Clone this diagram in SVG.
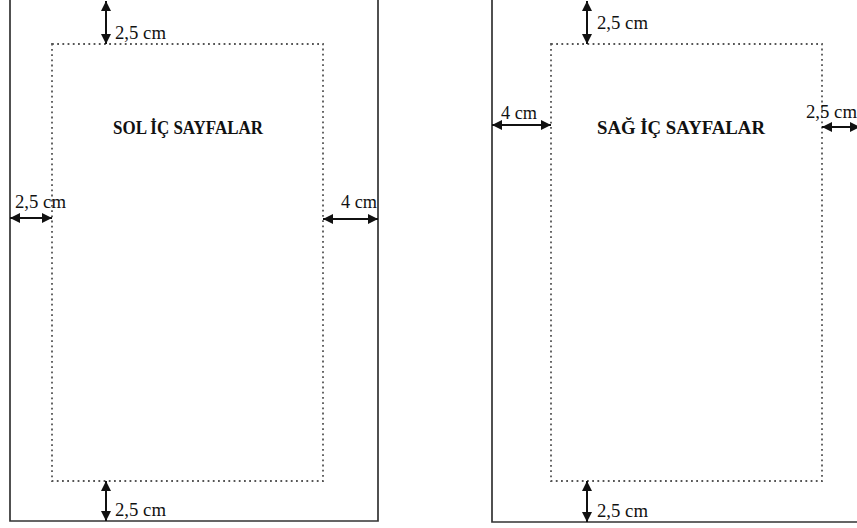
<svg xmlns="http://www.w3.org/2000/svg" width="857" height="528" viewBox="0 0 857 528">
<defs>
<marker id="ah" viewBox="0 0 10 10" refX="10" refY="5" markerWidth="5" markerHeight="5" orient="auto-start-reverse" markerUnits="strokeWidth">
<path d="M0,0 L10,5 L0,10 z" fill="#111"/>
</marker>
<style>
.page{fill:none;stroke:#333;stroke-width:1.7}
.inner{fill:none;stroke:#555;stroke-width:1.8;stroke-dasharray:1.8,3.4}
.dim{stroke:#111;stroke-width:2;marker-start:url(#ah);marker-end:url(#ah)}
.lbl{font-family:"Liberation Serif",serif;font-size:18.5px;fill:#111}
.ttl{font-family:"Liberation Serif",serif;font-size:19px;font-weight:bold;fill:#111}
</style>
</defs>
<rect width="857" height="528" fill="#fff"/>
<g id="left-page">
<path class="page" d="M10,0 V521 H378 V0"/>
<rect class="inner" x="52" y="44" width="271" height="437"/>
<text class="ttl" x="113" y="134" textLength="150" lengthAdjust="spacingAndGlyphs">SOL İÇ SAYFALAR</text>
</g>
<g id="right-page">
<path class="page" d="M492,0 V522 H857"/>
<rect class="inner" x="551" y="44" width="271" height="437"/>
<text class="ttl" x="597" y="134" textLength="168" lengthAdjust="spacingAndGlyphs">SAĞ İÇ SAYFALAR</text>
</g>
<g id="connectors">
<line class="dim" x1="106" y1="1" x2="106" y2="44"/>
<line class="dim" x1="106" y1="481" x2="106" y2="521"/>
<line class="dim" x1="10" y1="218" x2="52" y2="218"/>
<line class="dim" x1="323" y1="219" x2="378" y2="219"/>
<line class="dim" x1="587" y1="1" x2="587" y2="44"/>
<line class="dim" x1="587" y1="481" x2="587" y2="522"/>
<line class="dim" x1="492" y1="125" x2="551" y2="125"/>
<line class="dim" x1="822" y1="127" x2="860" y2="127"/>
</g>
<g id="labels">
<text class="lbl" x="115" y="39" textLength="51" lengthAdjust="spacingAndGlyphs">2,5 cm</text>
<text class="lbl" x="115" y="516" textLength="51" lengthAdjust="spacingAndGlyphs">2,5 cm</text>
<text class="lbl" x="15" y="208" textLength="51" lengthAdjust="spacingAndGlyphs">2,5 cm</text>
<text class="lbl" x="341" y="208" textLength="36" lengthAdjust="spacingAndGlyphs">4 cm</text>
<text class="lbl" x="597" y="29" textLength="51" lengthAdjust="spacingAndGlyphs">2,5 cm</text>
<text class="lbl" x="597" y="517" textLength="51" lengthAdjust="spacingAndGlyphs">2,5 cm</text>
<text class="lbl" x="501" y="119" textLength="36" lengthAdjust="spacingAndGlyphs">4 cm</text>
<text class="lbl" x="806" y="118" textLength="51" lengthAdjust="spacingAndGlyphs">2,5 cm</text>
</g>
</svg>
